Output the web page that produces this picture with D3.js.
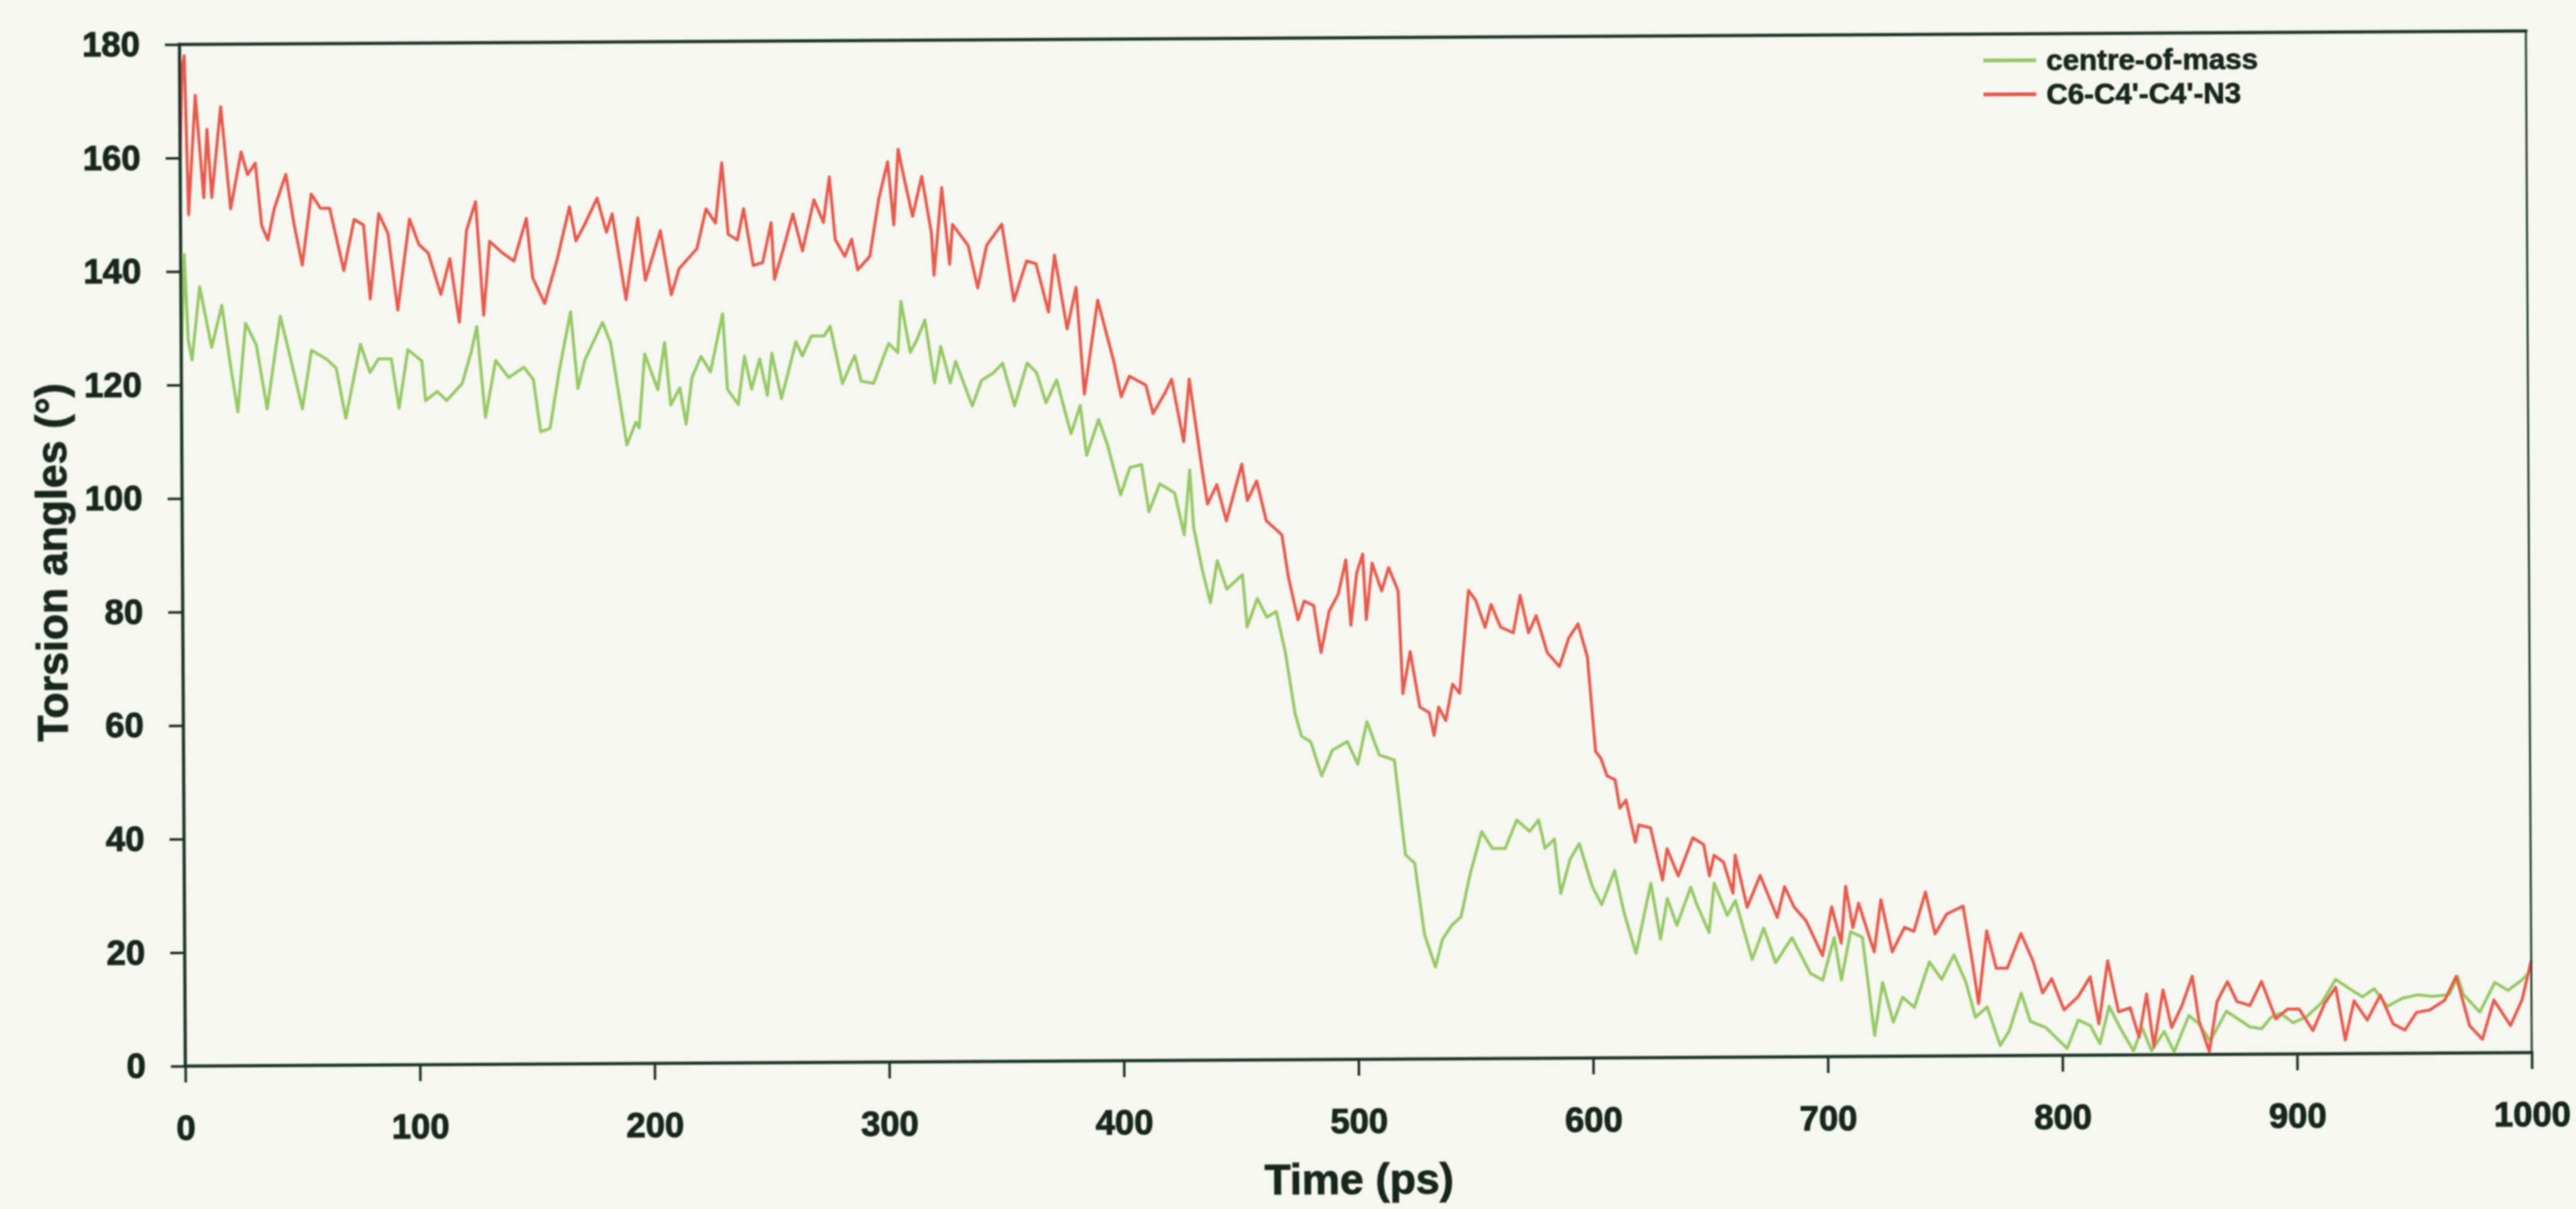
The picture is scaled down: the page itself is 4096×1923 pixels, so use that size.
<!DOCTYPE html>
<html>
<head>
<meta charset="utf-8">
<script src="https://cdn.jsdelivr.net/npm/d3@7"></script>
<style>
  html, body { margin: 0; padding: 0; background: #f6f7f1; overflow: hidden; }
  svg { display: block; }
</style>
</head>
<body>
<svg id="chart" width="4096" height="1923"></svg>
<script>
// ---- data: time (ps) and torsion angle (degrees) for each trace ----
const comTime = [0,1.5,3,4.6,8,13,17.4,21,24,27.5,32,36.5,42.3,46.9,51.5,55.5,62,66,70,76.4,
  80.4,84,89.5,92.7,96.6,102.5,104,109,113,119.7,123.6,126,129.5,134,139.5,146,150,153,157,161,
  166,169,172,179.6,183,189.7,193.6,195,197.5,
  203,206,208.5,212.4,215,217.6,221.5,225.5,230.8,232.7,237.3,240,243,246.5,249.7,251.7,255.7,262,264.7,268.6,
  274,276.6,281.7,287,289.7,295,301.5,305.4,306.8,310.7,313.3,317,321,323.7,327.7,330,337,341,346,350,
  355,360.5,364.5,368.4,373,379,383,385.6,390.8,394.6,400,
  404,409,412,416.7,423,427,429.5,431,434.6,438,441,445,451.7,453.6,458,462,466,469.8,473.8,476.5,
  480.4,485,489.6,496,500.4,504.4,509.6,516,520.5,524.4,528.4,533,536,540,544,548,553,557.6,563,568,
  573.5,577.3,580,584,586.6,590.6,594.6,600,
  604,609.6,613.4,618.5,625,629,632,636,642,644.5,649.7,652,657.5,661,668,673,678,685,692.8,698,
  703,706,710,715,720,723.5,728,732,737,743.5,748.7,754,759,763,768,773.5,777.3,782.6,786.4,793,802,
  806.8,812,816,820,825,830.3,834,838,843.4,847.6,854,858,863,870,875,880,885,889,893,898.4,
  904,910.6,916.6,922.6,928,933,938.6,945,951.6,958,965,968.6,971,978,984.4,990,996,1000];
const comAngle = [124,143,128,124.4,137.3,126.6,134,123.3,115.2,130.8,127,115.7,132,124,115.7,126,124.4,122.8,114,127,
  122,124.4,124.4,115.7,126,124,117,118.6,117,120,125.6,130,114,124,121,122.8,120.6,111.4,112,122,
  132.5,119,124,130.6,127,109,113,112,125,
  118.7,127,116,119,112.6,120.8,124.5,121.8,132,118.7,116,124.5,118.7,124,117.6,125,117,127,124.5,128,
  128,129.7,119.6,124.5,120,119.6,126.6,125,134,125,127,130.7,119.6,126,119.6,123.4,115.5,120,121.3,123,
  115.5,123,121.3,116,120,110.5,115.5,106.7,113,108.4,99.7,
  104.5,105,96.7,101.6,100,92.6,104,94,86.4,80.6,88,83,85.5,76.3,81.3,78,79,71.8,61,57,
  56,50,54.5,56,52,59.5,53.6,52.7,36,34.5,22,16.2,21,23.5,25,32.5,40,37,37,42,
  40,42,37,38.6,29,35,37.8,30.3,
  27,33,25.8,18.4,30.7,20.9,28,23.3,30,27,22,30.7,25,27.6,17.2,22.7,16.6,21,14.7,13.5,
  21,13.5,22,21,3.7,13,6,10.4,8.6,16.6,13.5,17.8,13,6.8,8.6,1.8,4.3,11,6,4.9,1.2,
  6.2,5.2,2,8.6,4.5,0.7,4.8,0.7,4.1,0.5,6.9,5.5,2.4,7.6,6.2,4.8,4.5,6.5,7.2,5.5,
  6.5,9,13.1,11.4,10,11.4,8.3,9.7,10.3,10,10.3,13.5,10.3,7.2,12.4,11,12.8,14.5];

const torTime = [0,1,2,3.5,6.6,10,11.5,13.4,17.4,21.4,26,28.7,32,34.6,37.2,40,45,48.5,51.8,55.8,
  59.7,63.6,69.5,74,78,80.7,84.5,88.4,92.4,97.6,101.6,105.5,110.8,114.7,118.6,121.9,125.8,129,131.7,137,
  142,147.4,150,155,160.6,165.8,168.5,172.4,177.6,181.5,184,189.7,194.9,198,
  204.5,209,212.4,220,224,228,230.8,233.4,237.3,240,244,248,251.7,253,256.3,261,265,270,274,276.6,
  279,283,286,288.5,293.7,297.6,301.5,304,306,308.6,312,316,320,321,324.5,327.7,329,335.6,339.6,343.5,
  350,355,360.5,364.5,369.7,372.4,377.6,381.5,384.8,390.7,394.6,397.3,400.5,
  404,411,414,419,422,427,429.5,434.6,437,441,445,451.7,454,458,462,468.6,471.3,475.3,478,482,
  485,488.6,492.5,495.8,497.8,500.4,503,504.4,507,511,514,518,519.8,523,527,531,533,535,538,541,
  544,548,551,555,557.6,561.6,567,570,573.5,576.8,581.4,586.6,590.6,594.6,598.5,601.8,
  604,606.6,610,612,614.6,618.5,620,625,630,632,636.7,643,647.6,650,652,656,660,661,666,671.6,
  678.8,682,686,691,698,702,706,708,711,713.5,720,723,727.7,733,737,742,746,751,758,761.6,
  764.4,768,772,776.7,782.6,787.7,791.7,795.6,800.8,
  806.8,812,815.6,819.5,824,829,832.7,836,839,843,846.6,851,855.5,858.3,862.6,866,870.5,874.5,880,885,
  891,896,901,906.8,912,916.6,920.6,924.4,930,935.6,941,946,951,956.6,963,968,973.6,979,984,991,996,1000];
const torAngle = [160,176,178,150,171,153,165,153,169,151,161,157,159,148,145.5,151,157,148,141,153.5,
  151,151,140,149,148,135,150,146.5,133,149,144.5,143,135.7,142,130.8,147,152,132,145,143,
  141.5,149,138.5,134,142,151,145,148,152.5,146.5,149.7,134.6,149,138,
  146.7,135.4,140,143.5,150.5,148,158.6,146,145,150.5,140.5,141,148,138,142.6,149.5,143,152,148,156,
  145,142,145,139.6,142,152,158.6,147.5,160.8,155.5,149,156,146,138.6,154,140.5,147.5,143.8,136.3,143.8,
  147.5,134,141,140.5,132,142,129,136.3,117.5,134,127.7,123.4,117,
  120.6,119,114,117.5,120,109,120,104.6,98,101.4,95,105,98.6,102,95,92.5,85,77.5,80.8,80,
  71.7,79,82,88,76.5,85.7,89,77.5,87.4,82.5,86.6,82.5,64.4,71.8,62,61,57,62,59.6,66,
  64.4,82.5,80.8,76,80,76,75,81.6,75,78,71.5,69,74,76.5,70.7,54,
  52.8,49.7,49,44,45.4,38,41,40.5,31.3,36.8,32,38.7,37.5,32,35.6,34.4,28.9,35.6,26.4,32,
  24.6,30,26.4,24,17.8,26.4,20,30,22.7,27,18.4,27.6,18.4,22.7,22,28.9,21.5,25,26.4,17.2,
  9.2,22,15.4,15.4,21.5,16.6,11,13.5,8,
  10.3,13.8,5.5,16.6,7.6,8.3,3.1,10.7,1.4,11.4,4.8,8.6,13.8,5.9,0.5,9.3,12.8,9.3,8.6,12.8,
  6.2,7.9,7.9,4.1,9,11.7,2.4,9.3,5.9,10.3,5.2,4.1,7.2,7.6,9.3,13.5,4.8,2.4,9.3,4.8,9.3,16.2];

const xTicks = [0, 100, 200, 300, 400, 500, 600, 700, 800, 900, 1000];
const yTicks = [0, 20, 40, 60, 80, 100, 120, 140, 160, 180];
const seriesNames = ["centre-of-mass", "C6-C4'-C4'-N3"];
const seriesColors = ["#94c964", "#e65a4c"];
const xTitle = "Time (ps)";
const yTitle = "Torsion angles (\u00b0)";

// ---- layout ----
const W = 4096, H = 1923;
const plot = { left: 290, right: 4021, top: 60, bottom: 1685 };
const tilt = -0.33;                       // the sheet sits slightly askew
const cx = (plot.left + plot.right) / 2, cy = (plot.top + plot.bottom) / 2;
const ink = "#16261d";
const axisInk = "#1d3327";
const font = "'Liberation Sans', Arial, Helvetica, sans-serif";

const svg = d3.select("#chart");
const defs = svg.append("defs");
defs.append("filter").attr("id", "soft").attr("x", "-5%").attr("y", "-5%").attr("width", "110%").attr("height", "110%")
  .append("feGaussianBlur").attr("stdDeviation", 0.9);

svg.append("rect").attr("width", W).attr("height", H).attr("fill", "#f6f7f1");

const x = d3.scaleLinear().domain([0, 1000]).range([plot.left, plot.right]);
const y = d3.scaleLinear().domain([0, 180]).range([plot.bottom, plot.top]);

const g = svg.append("g")
  .attr("transform", `rotate(${tilt},${cx},${cy})`)
  .attr("filter", "url(#soft)");

// traces (centre-of-mass first, the torsion trace drawn over it)
const line = d3.line().x(d => x(d[0])).y(d => y(d[1]));
const series = [d3.zip(comTime, comAngle), d3.zip(torTime, torAngle)];
g.selectAll("path.trace").data(series).join("path")
  .attr("class", "trace")
  .attr("d", line)
  .attr("fill", "none")
  .attr("stroke", (d, i) => seriesColors[i])
  .attr("stroke-width", 4.8)
  .attr("stroke-linejoin", "round");

// axes
function styleAxis(sel) {
  sel.select(".domain").remove();
  sel.selectAll(".tick line").attr("stroke", axisInk).attr("stroke-width", 4);
  sel.selectAll(".tick text")
    .attr("font-family", font).attr("font-weight", 700).attr("font-size", 55)
    .attr("fill", ink).attr("stroke", ink).attr("stroke-width", 1.4);
}
g.append("g").attr("transform", `translate(${plot.left},0)`)
  .call(d3.axisLeft(y).tickValues(yTicks).tickSize(23).tickPadding(40).tickFormat(d3.format("d")))
  .call(styleAxis);
g.append("g").attr("transform", `translate(0,${plot.bottom})`)
  .call(d3.axisBottom(x).tickValues(xTicks).tickSize(26).tickPadding(52).tickFormat(d3.format("d")))
  .call(styleAxis);

// frame
const frame = [
  { x1: plot.left, y1: plot.top, x2: plot.right, y2: plot.top, w: 5 },
  { x1: plot.left, y1: plot.top, x2: plot.left, y2: plot.bottom, w: 5 },
  { x1: plot.left, y1: plot.bottom, x2: plot.right, y2: plot.bottom, w: 5 },
  { x1: plot.right, y1: plot.top, x2: plot.right, y2: plot.bottom, w: 3 }
];
g.selectAll("line.frame").data(frame).join("line")
  .attr("class", "frame")
  .attr("x1", d => d.x1).attr("y1", d => d.y1).attr("x2", d => d.x2).attr("y2", d => d.y2)
  .attr("stroke", axisInk).attr("stroke-width", d => d.w).attr("stroke-linecap", "square");

// axis titles
g.append("text")
  .attr("x", (plot.left + plot.right) / 2).attr("y", plot.bottom + 214)
  .attr("text-anchor", "middle")
  .attr("font-family", font).attr("font-weight", 700).attr("font-size", 68)
  .attr("fill", ink).attr("stroke", ink).attr("stroke-width", 1.2)
  .text(xTitle);
g.append("text")
  .attr("transform", `translate(106,${(plot.top + plot.bottom) / 2 + 10}) rotate(-90)`)
  .attr("text-anchor", "middle")
  .attr("font-family", font).attr("font-weight", 700).attr("font-size", 68)
  .attr("fill", ink).attr("stroke", ink).attr("stroke-width", 1.2)
  .text(yTitle);

// legend
const legend = g.append("g").attr("transform", `translate(3158,${plot.top + 58})`);
const item = legend.selectAll("g").data(seriesNames).join("g")
  .attr("transform", (d, i) => `translate(0,${i * 54})`);
item.append("line")
  .attr("x1", 0).attr("x2", 84).attr("y1", -16).attr("y2", -16)
  .attr("stroke", (d, i) => seriesColors[i]).attr("stroke-width", 6);
item.append("text")
  .attr("x", 100).attr("y", 0)
  .attr("font-family", font).attr("font-weight", 700).attr("font-size", 47)
  .attr("fill", ink).attr("stroke", ink).attr("stroke-width", 1)
  .text(d => d);
</script>
</body>
</html>
